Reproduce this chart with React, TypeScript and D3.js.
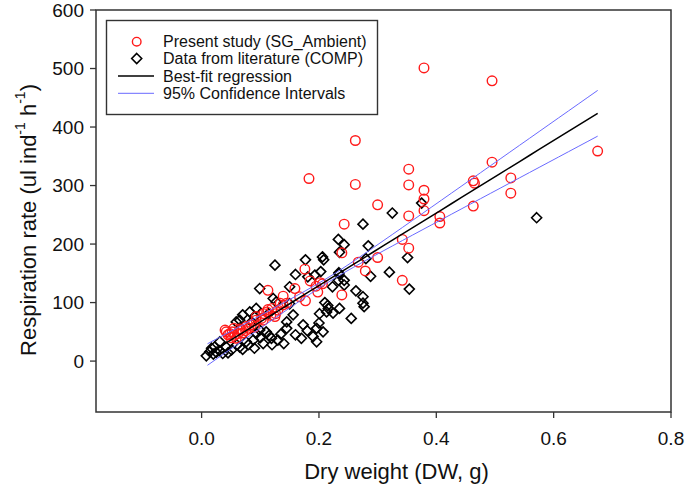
import React from 'react';
import * as d3 from 'd3';

const W = 685;
const H = 494;

// axis ticks
const xTicks = [0.0, 0.2, 0.4, 0.6, 0.8];
const yTicks = [0, 100, 200, 300, 400, 500, 600];

// Present study (SG_Ambient)
const presentX = [
  0.379, 0.495, 0.262, 0.675, 0.495, 0.353, 0.262, 0.353, 0.527, 0.463,
  0.465, 0.379, 0.379, 0.379, 0.527, 0.300, 0.353, 0.463, 0.406, 0.406,
  0.243, 0.342, 0.353, 0.300, 0.239, 0.267, 0.279, 0.342, 0.239, 0.183,
  0.176, 0.185, 0.202, 0.198, 0.113, 0.159, 0.167, 0.177, 0.139, 0.134,
  0.113, 0.130, 0.106, 0.093, 0.111, 0.102, 0.093, 0.126, 0.125, 0.139,
  0.076, 0.068, 0.048, 0.042, 0.056, 0.059, 0.050, 0.040, 0.045, 0.052,
  0.062, 0.065, 0.070, 0.080, 0.085, 0.090, 0.055, 0.075, 0.105, 0.118,
  0.120, 0.145, 0.206, 0.195,
];
const presentY = [
  501, 479, 377, 359, 340, 328, 302, 301, 313, 308,
  304, 292, 277, 257, 287, 267, 248, 265, 247, 236,
  234, 208, 193, 177, 185, 169, 154, 138, 113, 312,
  157, 137, 134, 118, 121, 124, 110, 103, 111, 99,
  88, 87, 81, 76, 84, 73, 70, 81, 76, 96,
  59, 53, 47, 50, 44, 39, 40, 53, 45, 50,
  47, 55, 48, 56, 62, 58, 56, 52, 70, 78,
  90, 99, 132, 128,
];

// Data from literature (COMP)
const compX = [
  0.375, 0.325, 0.275, 0.571, 0.233, 0.243, 0.284, 0.235, 0.351, 0.280,
  0.234, 0.320, 0.288, 0.243, 0.243, 0.263, 0.354, 0.223, 0.275, 0.277,
  0.206, 0.208, 0.177, 0.125, 0.160, 0.203, 0.234, 0.233, 0.099, 0.122,
  0.150, 0.216, 0.224, 0.235, 0.201, 0.255, 0.156, 0.210, 0.215, 0.082,
  0.065, 0.127, 0.145, 0.099, 0.110, 0.130, 0.145, 0.173, 0.170, 0.196,
  0.207, 0.196, 0.213, 0.031, 0.022, 0.014, 0.008, 0.042, 0.051, 0.065,
  0.076, 0.088, 0.093, 0.105, 0.085, 0.070, 0.036, 0.114, 0.059, 0.090,
  0.119, 0.193, 0.181, 0.150, 0.093, 0.017, 0.020, 0.025, 0.030, 0.045,
  0.060, 0.070, 0.080, 0.090, 0.100, 0.115, 0.120, 0.135, 0.140, 0.160,
  0.180, 0.190, 0.200, 0.275,
];
const compY = [
  270, 253, 234, 245, 208, 199, 197, 186, 177, 175,
  151, 152, 145, 138, 130, 120, 123, 127, 99, 93,
  178, 173, 173, 164, 148, 153, 149, 138, 124, 107,
  98, 90, 82, 90, 81, 73, 79, 100, 95, 84,
  70, 101, 67, 53, 50, 36, 56, 62, 39, 56,
  50, 33, 84, 33, 24, 16, 9, 24, 19, 24,
  33, 36, 47, 30, 67, 79, 13, 81, 67, 76,
  39, 147, 144, 127, 90, 22, 12, 15, 18, 14,
  28, 20, 28, 22, 40, 44, 28, 46, 30, 45,
  52, 42, 65, 110,
];

// Best-fit regression: [intercept, slope]; x range of the fitted line
const fitCoef = [5, 620];
const fitRange = [0.01, 0.675];
// 95% CI half-width parameters: [base variance, spread factor, mean x]
const ciParams = [16, 7300, 0.22];

const legendLabels = [
  'Present study (SG_Ambient)',
  'Data from literature (COMP)',
  'Best-fit regression',
  '95% Confidence Intervals',
];

const FONT = "'Liberation Sans', Arial, Helvetica, sans-serif";

export default function App() {
  const left = 96, right = 671, top = 10, bottom = 412;
  const x = d3.scaleLinear().domain([-0.18, 0.8]).range([left, right]);
  const y = d3.scaleLinear().domain([-87, 600]).range([bottom, top]);

  const fit = (v: number) => fitCoef[0] + fitCoef[1] * v;
  const half = (v: number) =>
    Math.sqrt(ciParams[0] + ciParams[1] * (v - ciParams[2]) * (v - ciParams[2]));
  const xs = d3.range(0, 41).map((i) => fitRange[0] + ((fitRange[1] - fitRange[0]) * i) / 40);

  const line = d3
    .line<number>()
    .x((d) => x(d))
    .y((d) => y(fit(d)));
  const upper = d3
    .line<number>()
    .x((d) => x(d))
    .y((d) => y(fit(d) + half(d)));
  const lower = d3
    .line<number>()
    .x((d) => x(d))
    .y((d) => y(fit(d) - half(d)));

  const red = '#ff1a1a';
  const ds = 5;
  const diamond = `M0,${-ds}L${ds},0L0,${ds}L${-ds},0Z`;

  const lgX = 106.5, lgY = 20.5, lgW = 271, lgH = 94;
  const rowY = [41.7, 58.5, 76, 93.3];

  return (
    <svg
      width={W}
      height={H}
      style={{ position: 'absolute', left: 0, top: 0, background: '#fff' }}
      fontFamily={FONT}
    >
      <rect x={0} y={0} width={W} height={H} fill="#fff" />
      {/* frame */}
      <rect x={left} y={top} width={right - left} height={bottom - top} fill="none" stroke="#333" strokeWidth={1.5} />

      {/* y ticks */}
      {yTicks.map((t) => (
        <g key={'y' + t}>
          <line x1={left - 6} x2={left} y1={y(t)} y2={y(t)} stroke="#333" strokeWidth={1.3} />
          <text x={84} y={y(t)} textAnchor="end" dominantBaseline="central" fontSize={19} fill="#111">
            {t}
          </text>
        </g>
      ))}
      {/* x ticks */}
      {xTicks.map((t) => (
        <g key={'x' + t}>
          <line x1={x(t)} x2={x(t)} y1={bottom} y2={bottom + 6} stroke="#333" strokeWidth={1.3} />
          <text x={x(t)} y={438} textAnchor="middle" dominantBaseline="central" fontSize={19} fill="#111">
            {t.toFixed(1)}
          </text>
        </g>
      ))}

      {/* axis titles */}
      <text x={(left + right) / 2 + 13} y={471} textAnchor="middle" dominantBaseline="central" fontSize={22} fill="#111">
        Dry weight (DW, g)
      </text>
      <text
        transform={`translate(28, ${220}) rotate(-90)`}
        textAnchor="middle"
        dominantBaseline="central"
        fontSize={22}
        fill="#111"
      >
        Respiration rate (ul ind
        <tspan dy={-8} fontSize={14}>-1</tspan>
        <tspan dy={8}> h</tspan>
        <tspan dy={-8} fontSize={14}>-1</tspan>
        <tspan dy={8}>)</tspan>
      </text>

      {/* COMP diamonds */}
      {compX.map((v, i) => (
        <path
          key={'c' + i}
          d={diamond}
          transform={`translate(${x(v)},${y(compY[i])})`}
          fill="none"
          stroke="#000"
          strokeWidth={1.6}
        />
      ))}
      {/* present study circles */}
      {presentX.map((v, i) => (
        <circle key={'p' + i} cx={x(v)} cy={y(presentY[i])} r={4.8} fill="none" stroke={red} strokeWidth={1.4} />
      ))}

      {/* CI and regression */}
      <path d={upper(xs) || ''} fill="none" stroke="#6a6aff" strokeWidth={1} />
      <path d={lower(xs) || ''} fill="none" stroke="#6a6aff" strokeWidth={1} />
      <path d={line(xs) || ''} fill="none" stroke="#000" strokeWidth={1.5} />

      {/* legend */}
      <rect x={lgX} y={lgY} width={lgW} height={lgH} fill="#fff" stroke="#333" strokeWidth={1.4} />
      <circle cx={136.7} cy={rowY[0]} r={4.3} fill="none" stroke={red} strokeWidth={1.4} />
      <path d={diamond} transform={`translate(136.7,${rowY[1]})`} fill="none" stroke="#000" strokeWidth={1.6} />
      <line x1={118} x2={154} y1={rowY[2]} y2={rowY[2]} stroke="#000" strokeWidth={1.3} />
      <line x1={118} x2={154} y1={rowY[3]} y2={rowY[3]} stroke="#6a6aff" strokeWidth={1} />
      {legendLabels.map((l, i) => (
        <text key={l} x={163} y={rowY[i]} dominantBaseline="central" fontSize={16} fill="#111">
          {l}
        </text>
      ))}
    </svg>
  );
}
